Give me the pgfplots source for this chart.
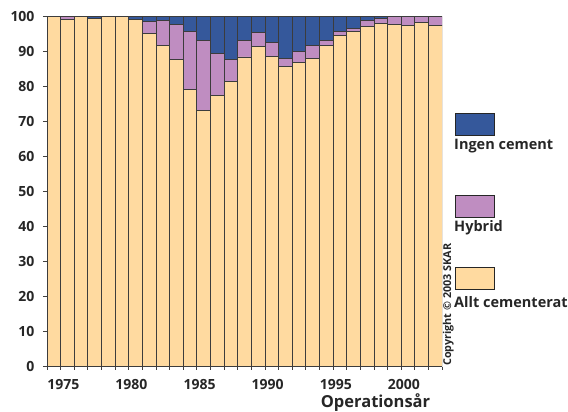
\documentclass[border=0pt]{standalone}
\usepackage{fontspec}
\setmainfont{Open Sans}
\usepackage{pgfplots}
\usepackage{pgfplotstable}
\pgfplotsset{compat=1.18}

\definecolor{ingen}{RGB}{53,88,155}
\definecolor{hybrid}{RGB}{191,141,193}
\definecolor{allt}{RGB}{255,218,160}
\definecolor{edge}{RGB}{60,60,60}

% idx 0 = first bar (1974) ... 28 = 2002
\pgfplotstableread{
idx allt hybrid ingen
0  100.0  0.0  0.0
1   99.3  0.7  0.0
2  100.0  0.0  0.0
3   99.4  0.0  0.6
4  100.0  0.0  0.0
5  100.0  0.0  0.0
6   99.3  0.0  0.7
7   95.1  3.6  1.3
8   91.9  6.9  1.2
9   87.9  9.9  2.2
10  79.1 16.8  4.1
11  73.1 20.1  6.8
12  77.4 12.0 10.6
13  81.4  6.4 12.2
14  88.5  4.8  6.7
15  91.5  4.0  4.5
16  88.6  4.0  7.4
17  85.7  2.3 12.0
18  87.0  3.0 10.0
19  88.1  3.6  8.3
20  91.8  1.5  6.7
21  94.7  1.2  4.1
22  95.7  1.0  3.3
23  97.3  1.5  1.2
24  98.1  1.4  0.5
25  97.7  2.3  0.0
26  97.5  2.5  0.0
27  98.4  1.6  0.0
28  97.5  2.5  0.0
}\skardata

\begin{document}
\begin{tikzpicture}
\useasboundingbox (0,0) rectangle (568bp,412bp);
\begin{axis}[
    at={(47bp,45.3bp)}, anchor=south west,
    scale only axis, width=395bp, height=350bp,
    xmin=-0.5, xmax=28.5, ymin=0, ymax=100,
    axis x line*=bottom, axis y line*=left,
    axis line style={black!75, line width=0.8pt},
    ybar stacked, bar width=1,
    ytick={0,10,...,100},
    xtick={0.7,5.7,10.7,15.7,20.7,25.7},
    xticklabels={1975,1980,1985,1990,1995,2000},
    minor xtick={-0.5,0.5,...,28.5},
    tick align=outside,
    major x tick style={draw=none},
    major y tick style={black!75, line width=0.8pt},
    minor x tick style={black!75, line width=0.8pt},
    major tick length=4bp, minor tick length=3bp,
    tick label style={font=\fontsize{14bp}{16bp}\selectfont\bfseries, text=black!85},
    yticklabel style={xshift=-5bp},
    xticklabel style={yshift=-5bp},
    /pgf/number format/assume math mode=true,
    every axis plot/.append style={draw=edge, line width=0.8pt},
]
\addplot[fill=allt] table[x=idx, y=allt] {\skardata};
\addplot[fill=hybrid] table[x=idx, y=hybrid] {\skardata};
\addplot[fill=ingen] table[x=idx, y=ingen] {\skardata};
\end{axis}

% legend
\tikzset{lgtext/.style={anchor=base west, inner sep=0, text=black!85,
    font=\fontsize{14.5bp}{16bp}\selectfont\bfseries}}
\draw[fill=ingen, draw=black!85, line width=0.8pt] (455bp,277bp) rectangle (494bp,299bp);
\node[lgtext] at (454bp,262bp) {Ingen cement};
\draw[fill=hybrid, draw=black!85, line width=0.8pt] (455bp,195bp) rectangle (494bp,217bp);
\node[lgtext] at (454bp,180bp) {Hybrid};
\draw[fill=allt, draw=black!85, line width=0.8pt] (455bp,123bp) rectangle (494bp,145bp);
\node[lgtext] at (454bp,104.7bp) {Allt cementerat};

\node[rotate=90, anchor=base west, inner sep=0, text=black!85,
      font=\fontsize{10.8bp}{12bp}\selectfont\bfseries] at (451bp,46bp) {Copyright © 2003 SKAR};

\node[anchor=base, inner sep=0, text=black!85,
      font=\fontsize{16.5bp}{18bp}\selectfont\bfseries] at (375.5bp,5bp) {Operationsår};
\end{tikzpicture}
\end{document}
